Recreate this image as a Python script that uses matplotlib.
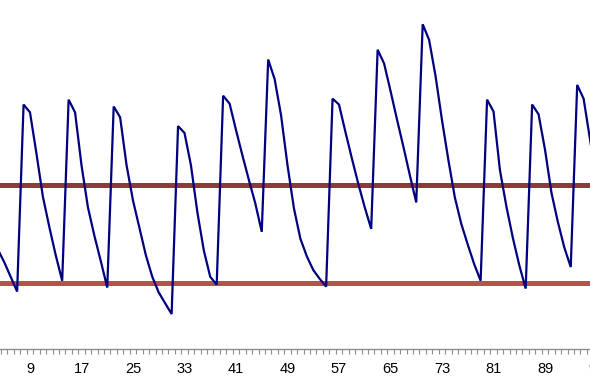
import matplotlib
matplotlib.use("Agg")
import matplotlib.pyplot as plt
from matplotlib.ticker import FixedLocator

plt.rcParams['font.family'] = ['Liberation Sans', 'DejaVu Sans']

# Day index (category axis) and concentration series
days = list(range(1, 101))
concentration = [
    18.4, 16.2, 14.6, 13.4, 12.1, 10.6, 9.1,            # 1-7
    28.2, 27.4, 23.2, 18.8, 15.7, 12.8, 10.2,           # 8-14
    28.7, 27.4, 22.0, 17.7, 14.8, 12.2, 9.5,            # 15-21
    28.0, 26.9, 22.0, 18.4, 15.6, 12.8, 10.6, 9.0, 7.9, 6.8,   # 22-31
    26.0, 25.3, 22.0, 17.2, 13.3, 10.6, 9.8,            # 32-38
    29.1, 28.3, 25.6, 23.0, 20.5, 18.1, 15.2,           # 39-45
    32.8, 30.8, 27.1, 22.0, 17.6, 14.5, 12.7, 11.3, 10.4, 9.6, # 46-55
    28.8, 28.2, 25.4, 22.7, 20.1, 17.7, 15.5,           # 56-62
    33.8, 32.4, 29.6, 26.7, 23.9, 21.0, 18.2,           # 63-69
    36.4, 34.8, 31.1, 26.6, 22.5, 18.7, 16.0, 13.9, 11.9, 10.2, # 70-79
    28.7, 27.5, 21.5, 17.8, 14.6, 11.8, 9.4,            # 80-86
    28.2, 27.2, 23.6, 19.2, 16.2, 13.6, 11.6,           # 87-93
    30.2, 28.8, 24.6, 20.5, 17.2, 14.4, 12.1,           # 94-100
]
upper_level = 20.0
lower_level = 10.0
tick_labels = list(range(9, 101, 8))

W, H = 590, 380
fig = plt.figure(figsize=(W / 100, H / 100), dpi=100)

# axes placement: category i sits at pixel 30 + (i-9)*6.4375
ppu = 6.4375
x0, x1 = 0.5, 100.5
left_px = 30 + (x0 - 9) * ppu
right_px = 30 + (x1 - 9) * ppu
axis_py = 349
ax = fig.add_axes([left_px / W, (H - axis_py) / H,
                   (right_px - left_px) / W, axis_py / H])
ax.set_xlim(x0, x1)
ax.set_ylim(3.23, 38.88)

ax.axhline(upper_level, color='#8e3a38', lw=3.6, zorder=2, solid_capstyle='butt')
ax.axhline(lower_level, color='#ba504c', lw=3.6, zorder=2, solid_capstyle='butt')
ax.plot(days, concentration, color='#000080', lw=1.6, zorder=3,
        solid_joinstyle='miter')

for s in ['top', 'right', 'left']:
    ax.spines[s].set_visible(False)
ax.spines['bottom'].set_color('#8c8c8c')
ax.spines['bottom'].set_linewidth(1.0)
ax.set_yticks([])

ax.xaxis.set_major_locator(FixedLocator(tick_labels))
ax.set_xticklabels([str(t) for t in tick_labels])
ax.xaxis.set_minor_locator(FixedLocator([i + 0.5 for i in range(0, 101)]))
ax.tick_params(axis='x', which='major', length=0, pad=9.5,
               labelsize=10.5, labelcolor='black')
ax.tick_params(axis='x', which='minor', length=3.5, width=0.8,
               color='#8c8c8c', direction='out')

fig.savefig('out.png', dpi=100)
